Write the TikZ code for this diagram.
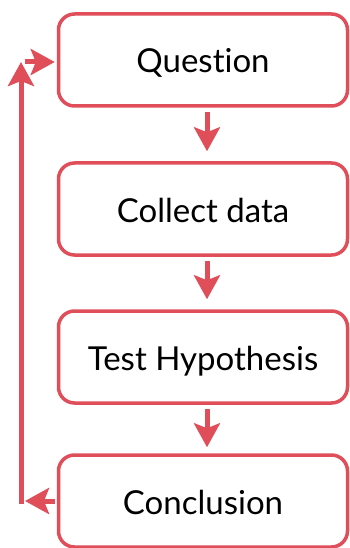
\documentclass[tikz,border=0pt]{standalone}
\usepackage{fontspec}
\setmainfont[Ligatures={NoCommon,NoRare}]{Lato}
\usetikzlibrary{arrows.meta}
\definecolor{loopred}{RGB}{224,78,90}
\begin{document}
\begin{tikzpicture}[x=1pt,y=1pt,
  stepbox/.style={draw=loopred, line width=3.5pt, rounded corners=16pt,
    minimum width=289pt, minimum height=92pt, fill=white, inner sep=0pt,
    text height=26pt, text depth=0pt,
    font=\fontsize{33}{36}\selectfont, text=black},
  flow/.style={draw=loopred, line width=5pt,
    -{Stealth[length=24pt, width=26pt, inset=5pt]}}]
\useasboundingbox (0,0) rectangle (350,-548);
\node[stepbox] (q) at (203,-60) {Question};
\node[stepbox] (c) at (203,-209) {Collect data};
\node[stepbox] (t) at (203,-357) {Test Hypothesis};
\node[stepbox] (k) at (203,-501) {Conclusion};
\coordinate (lb) at (21,-501);
\coordinate (lt) at (21,-62);
\draw[flow, shorten <=4pt, shorten >=10pt] ([xshift=4pt]q.south) -- ([xshift=4pt]c.north);
\draw[flow, shorten <=4pt, shorten >=10pt] ([xshift=4pt]c.south) -- ([xshift=4pt]t.north);
\draw[flow, shorten <=4pt, shorten >=6pt] ([xshift=4pt]t.south) -- ([xshift=4pt]k.north);
\draw[flow, shorten >=2pt] ([xshift=-2pt]k.west) -- ([xshift=2pt]lb);
\draw[flow, shorten <=-2.5pt] (lb) -- (lt);
\draw[flow, shorten <=2pt, shorten >=2pt] (lt -| 23,0) -- (q.west |- lt);
\end{tikzpicture}
\end{document}
